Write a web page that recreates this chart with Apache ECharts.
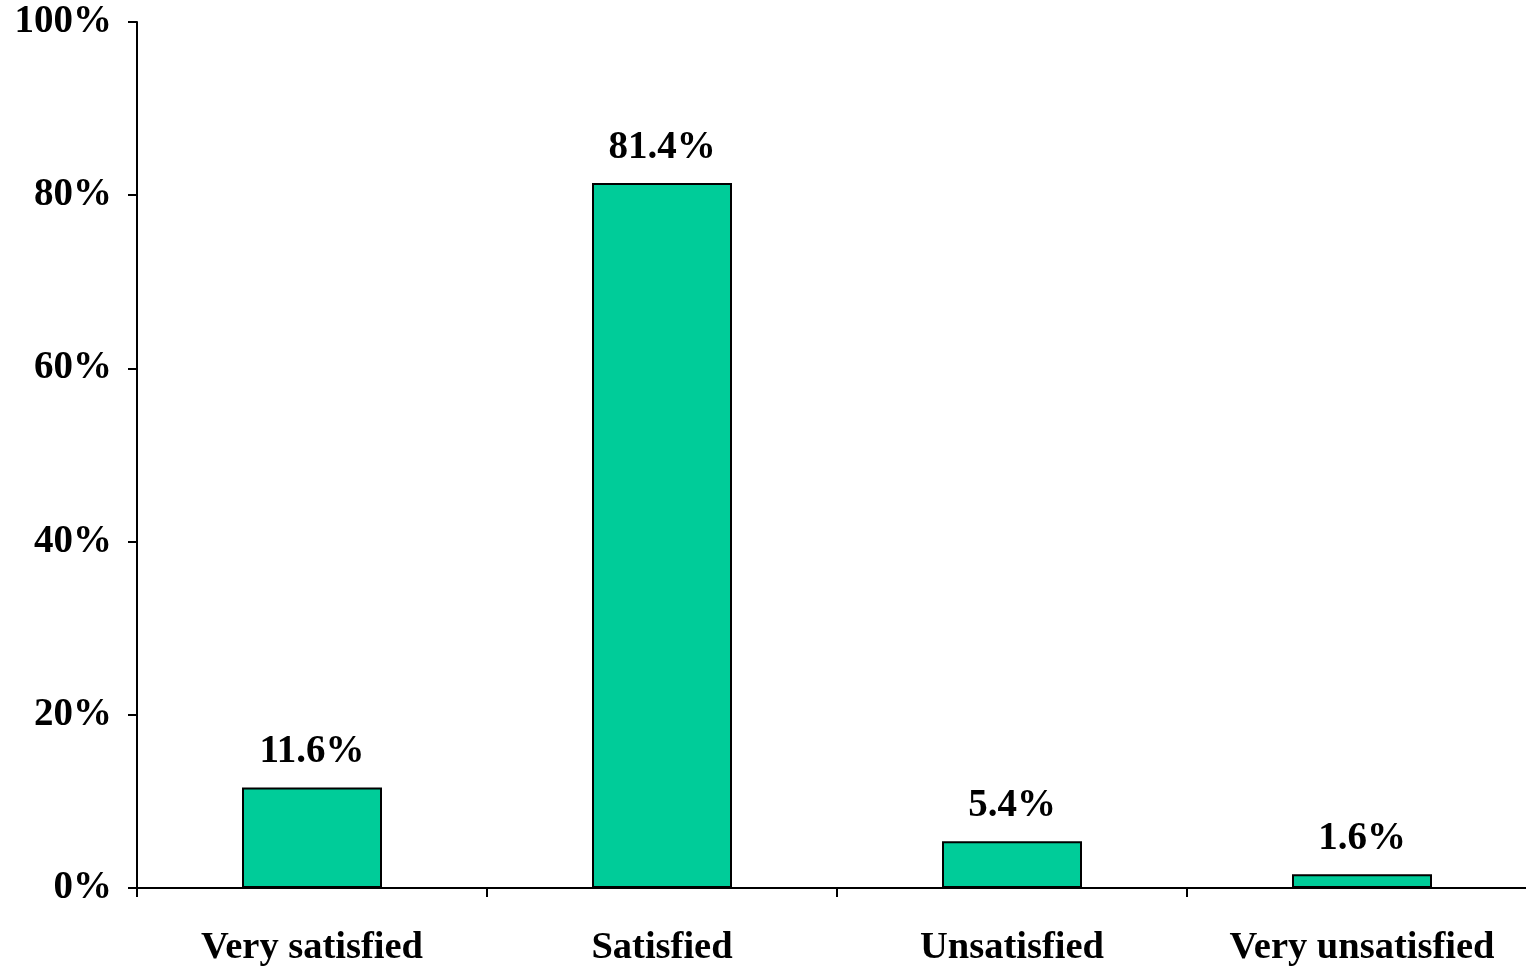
<!DOCTYPE html>
<html><head><meta charset="utf-8">
<script src="https://cdn.jsdelivr.net/npm/echarts@6/dist/echarts.min.js"></script>
<style>html,body{margin:0;padding:0;background:#fff}#c{width:1526px;height:966px}</style>
</head><body><div id="c"></div>
<script>
const categories = ['Very satisfied', 'Satisfied', 'Unsatisfied', 'Very unsatisfied'];
const values = [11.6, 81.4, 5.4, 1.6];
const yTicks = [0, 20, 40, 60, 80, 100];

const font = '"Liberation Serif", "Times New Roman", serif';
const chart = echarts.init(document.getElementById('c'), null, {renderer: 'canvas'});
chart.setOption({
  animation: false,
  grid: {left: 137, width: 1400, top: 22, height: 866, containLabel: false, outerBoundsMode: 'none'},
  xAxis: {
    type: 'category', data: categories,
    axisLine: {lineStyle: {color: '#000', width: 2}},
    axisTick: {show: true, alignWithLabel: false, length: 9, lineStyle: {color: '#000', width: 2}},
    axisLabel: {color: '#000', fontFamily: font, fontWeight: 'bold', fontSize: 38.5, margin: 41, interval: 0}
  },
  yAxis: {
    type: 'value', min: yTicks[0], max: yTicks[yTicks.length - 1], interval: 20,
    axisLine: {show: true, lineStyle: {color: '#000', width: 2}},
    axisTick: {show: true, length: 9, lineStyle: {color: '#000', width: 2}},
    splitLine: {show: false},
    axisLabel: {color: '#000', fontFamily: font, fontWeight: 'bold', fontSize: 39, margin: 25, formatter: '{value}%'}
  },
  series: [{
    type: 'bar', data: values, barWidth: '40%',
    itemStyle: {color: '#00CC99', borderColor: '#000', borderWidth: 2},
    label: {show: true, position: 'top', distance: 16, color: '#000', fontFamily: font, fontWeight: 'bold', fontSize: 39,
      formatter: p => p.value.toFixed(1) + '%'}
  }]
});
</script></body></html>
